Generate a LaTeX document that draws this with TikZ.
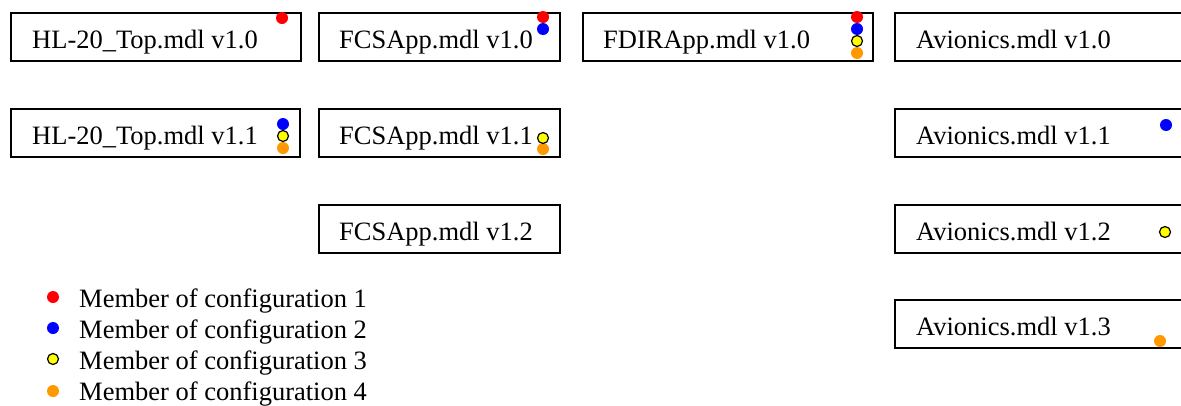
\documentclass[tikz,border=0pt]{standalone}
\usepackage{fontspec}
\setmainfont{Liberation Serif}
\usetikzlibrary{calc}
\definecolor{cfgred}{RGB}{255,0,0}
\definecolor{cfgblue}{RGB}{0,0,255}
\definecolor{cfgyellow}{RGB}{255,255,0}
\definecolor{cfgorange}{RGB}{255,153,0}
\tikzset{
  model/.style={draw=black, line width=2pt, rectangle, anchor=north west, inner sep=0pt},
  lbl/.style={anchor=base west, inner sep=0pt, font=\fontsize{26.5}{30}\selectfont},
  dot/.style={circle, inner sep=0pt, minimum size=12pt, draw=none},
  c1/.style={dot, fill=cfgred},
  c2/.style={dot, fill=cfgblue},
  c3/.style={dot, fill=cfgyellow, draw=black, line width=1.2pt, minimum size=11pt},
  c4/.style={dot, fill=cfgorange},
}
\begin{document}
\begin{tikzpicture}[x=1pt, y=-1pt]
\useasboundingbox (0,0) rectangle (1181,405);

% model version boxes
\node[model, minimum width=290pt, minimum height=48pt] (hl0) at (10,12) {};
\node[model, minimum width=241pt, minimum height=48pt] (fcs0) at (318,12) {};
\node[model, minimum width=290pt, minimum height=48pt] (fdir0) at (582,12) {};
\node[model, minimum width=292pt, minimum height=48pt] (av0) at (894,12) {};

\node[model, minimum width=289pt, minimum height=48pt] (hl1) at (10,108) {};
\node[model, minimum width=241pt, minimum height=48pt] (fcs1) at (318,108) {};
\node[model, minimum width=292pt, minimum height=48pt] (av1) at (894,108) {};

\node[model, minimum width=241pt, minimum height=48pt] (fcs2) at (318,204) {};
\node[model, minimum width=292pt, minimum height=48pt] (av2) at (894,204) {};

\node[model, minimum width=292pt, minimum height=48pt] (av3) at (894,299) {};

% box captions
\node[lbl] (thl0) at ($(hl0.west)+(22,11)$) {HL-20\_Top.mdl v1.0};
\node[lbl] (tfcs0) at ($(fcs0.west)+(21,11)$) {FCSApp.mdl v1.0};
\node[lbl] (tfdir0) at ($(fdir0.west)+(21,11)$) {FDIRApp.mdl v1.0};
\node[lbl] (tav0) at ($(av0.west)+(22,11)$) {Avionics.mdl v1.0};
\node[lbl] (thl1) at ($(hl1.west)+(22,11)$) {HL-20\_Top.mdl v1.1};
\node[lbl] (tfcs1) at ($(fcs1.west)+(21,11)$) {FCSApp.mdl v1.1};
\node[lbl] (tav1) at ($(av1.west)+(22,11)$) {Avionics.mdl v1.1};
\node[lbl] (tfcs2) at ($(fcs2.west)+(21,11)$) {FCSApp.mdl v1.2};
\node[lbl] (tav2) at ($(av2.west)+(22,11)$) {Avionics.mdl v1.2};
\node[lbl] (tav3) at ($(av3.west)+(22,11)$) {Avionics.mdl v1.3};

% configuration membership markers
\node[c1] (hl0a) at (282,18) {};

\node[c1] (fcs0a) at (543,17) {};
\node[c2] (fcs0b) at (543,29) {};

\node[c1] (fdir0a) at (857,17) {};
\node[c2] (fdir0b) at (857,29) {};
\node[c4] (fdir0d) at (857,53) {};
\node[c3] (fdir0c) at (857,41) {};

\node[c2] (hl1b) at (283,124) {};
\node[c4] (hl1d) at (283,148) {};
\node[c3] (hl1c) at (283,136) {};

\node[c4] (fcs1d) at (543,149) {};
\node[c3] (fcs1c) at (543,138) {};

\node[c2] (av1b) at (1166,125) {};
\node[c3] (av2c) at (1165,232) {};
\node[c4] (av3d) at (1160,341) {};

% legend
\node[c1] (k1) at (53,297) {};
\node[c2] (k2) at (53,328) {};
\node[c3] (k3) at (53,359) {};
\node[c4] (k4) at (53,391) {};
\node[lbl] (l1) at (79,307) {Member of configuration 1};
\node[lbl] (l2) at (79,338) {Member of configuration 2};
\node[lbl] (l3) at (79,369) {Member of configuration 3};
\node[lbl] (l4) at (79,400) {Member of configuration 4};
\end{tikzpicture}
\end{document}
